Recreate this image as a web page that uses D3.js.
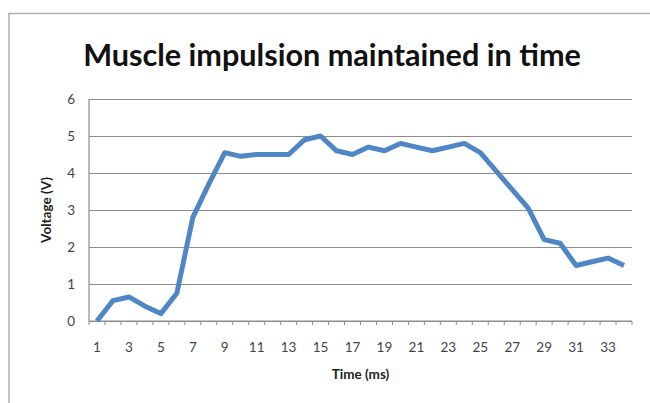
<!DOCTYPE html>
<html>
<head>
<meta charset="utf-8">
<script src="https://cdn.jsdelivr.net/npm/d3@7"></script>
<style>
  body { margin: 0; background: #fff; }
</style>
</head>
<body>
<svg id="svg" width="650" height="403" font-family="Lato, 'Open Sans', sans-serif"></svg>
<script>
// time in ms (category axis)
const times = d3.range(1, 35)
// voltage
const voltage = [0, 0.55, 0.65, 0.4, 0.2, 0.75, 2.8, 3.7, 4.55, 4.45, 4.5, 4.5, 4.5, 4.9, 5.0,
    4.6, 4.5, 4.7, 4.6, 4.8, 4.7, 4.6, 4.7, 4.8, 4.55, 4.05, 3.55, 3.05, 2.2, 2.1, 1.5, 1.6, 1.7, 1.5]
const yTicks = [0, 1, 2, 3, 4, 5, 6]
const xLabels = times.filter(t => t % 2 === 1)

const data = times.map((t, i) => ({ t, v: voltage[i] }))

let svg = d3.select('#svg')

// chart border (top and left edges visible)
svg.append('path')
    .attr('d', 'M9,403V13.5H650')
    .attr('fill', 'none')
    .attr('stroke', '#b0b0b0')
    .attr('stroke-width', 1.5)

const margin = { top: 99, left: 89, right: 18, bottom: 82 }
const width = +svg.attr('width')
const height = +svg.attr('height')
const innerWidth = width - margin.left - margin.right
const innerHeight = height - margin.top - margin.bottom

const xScale = d3.scaleBand()
    .domain(times)
    .range([0, innerWidth])

const yScale = d3.scaleLinear()
    .domain([0, 6])
    .range([innerHeight, 0])

const group = svg.append('g')
    .attr('transform', `translate(${margin.left}, ${margin.top})`)

// gridlines + y labels
const yAxis = d3.axisLeft(yScale)
    .tickValues(yTicks)
    .tickFormat(d3.format('d'))
    .tickSize(-innerWidth)
    .tickPadding(14)
group.append('g').call(yAxis)
    .attr('font-family', null)
    .call(g => g.select('.domain').remove())
    .call(g => g.selectAll('.tick line').attr('stroke', '#8c8c8c').attr('stroke-width', 1.2))
    .call(g => g.selectAll('.tick text').attr('font-size', 13.5).attr('fill', '#444'))

// y axis line
group.append('line')
    .attr('x1', 0).attr('x2', 0).attr('y1', 0).attr('y2', innerHeight)
    .attr('stroke', '#8c8c8c').attr('stroke-width', 1.2)

// x axis: tick marks at band edges
const edges = times.map(t => xScale(t)).concat([innerWidth])
const xg = group.append('g').attr('transform', `translate(0, ${innerHeight})`)
xg.append('line')
    .attr('x1', 0).attr('x2', innerWidth)
    .attr('stroke', '#8c8c8c').attr('stroke-width', 1.2)
xg.selectAll('.edge').data(edges).join('line')
    .attr('class', 'edge')
    .attr('x1', d => d).attr('x2', d => d)
    .attr('y1', 0).attr('y2', 4)
    .attr('stroke', '#8c8c8c')
xg.selectAll('.xl').data(xLabels).join('text')
    .attr('class', 'xl')
    .attr('x', d => xScale(d) + xScale.bandwidth() / 2)
    .attr('y', 31)
    .attr('text-anchor', 'middle')
    .attr('font-size', 13.5)
    .attr('fill', '#444')
    .text(d => d)

// the line
const line = d3.line()
    .x(d => xScale(d.t) + xScale.bandwidth() / 2)
    .y(d => yScale(d.v))
group.append('path')
    .datum(data)
    .attr('d', line)
    .attr('fill', 'none')
    .attr('stroke', '#4f86c6')
    .attr('stroke-width', 5)
    .attr('stroke-linejoin', 'round')

// title
svg.append('text').text('Muscle impulsion maintained in time')
    .attr('x', 332).attr('y', 66)
    .attr('text-anchor', 'middle')
    .attr('font-size', 30.6)
    .attr('font-weight', 'bold')
    .attr('fill', '#111')

// axis titles
svg.append('text').text('Time (ms)')
    .attr('x', margin.left + innerWidth / 2).attr('y', 379)
    .attr('text-anchor', 'middle')
    .attr('font-size', 13.5)
    .attr('font-weight', 'bold')
    .attr('fill', '#222')

svg.append('text').text('Voltage (V)')
    .attr('transform', `translate(51, ${margin.top + innerHeight / 2}) rotate(-90)`)
    .attr('text-anchor', 'middle')
    .attr('font-size', 13.5)
    .attr('font-weight', 'bold')
    .attr('fill', '#222')
</script>
</body>
</html>
